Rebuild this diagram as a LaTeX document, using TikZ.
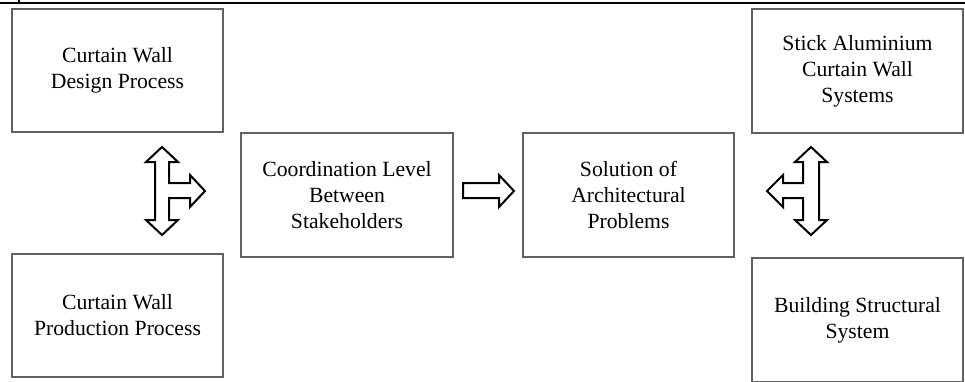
\documentclass[tikz,border=0pt]{standalone}
\usepackage{fontspec}
\setmainfont{Liberation Serif}
\begin{document}
\begin{tikzpicture}[x=1pt,y=-1pt,
  box/.style={draw=black!62,line width=1.4pt,minimum width=211pt,minimum height=123pt,
    inner sep=0pt,align=center,text=black,font=\fontsize{21.7}{26}\selectfont},
  blockarrow/.style={draw=black,fill=white,line width=2pt,line join=miter}]
\useasboundingbox (0,0) rectangle (965,381);
\clip (0,0) rectangle (965,381);
% top rule
\draw[line width=2.8pt] (0,3) -- (965,3);
\draw[line width=1.5pt] (19,0) -- (19,3);
% boxes
\node[box] (design) at (117.5,70.5) {Curtain Wall\\Design Process};
\node[box] (production) at (117.5,315.5) {Curtain Wall\\Production Process};
\node[box,minimum width=212pt,minimum height=124pt] (coord) at (347,195) {Coordination Level\\Between\\Stakeholders};
\node[box,minimum height=124pt] (solution) at (628.5,195) {Solution of\\Architectural\\Problems};
\node[box,minimum height=124pt] (stick) at (857.5,71) {Stick Aluminium\\Curtain Wall\\Systems};
\node[box,minimum height=124pt] (building) at (857.5,320) {Building Structural\\System};
% left three-way arrow
\draw[blockarrow] (162,147) -- (178,162) -- (169,162) -- (169,183) -- (190,183) -- (190,175)
  -- (205,191) -- (190,207) -- (190,198) -- (169,198) -- (169,220) -- (178,220)
  -- (162,235) -- (146,220) -- (155,220) -- (155,162) -- (146,162) -- cycle;
% middle arrow
\draw[blockarrow] (463,183) -- (499,183) -- (499,175) -- (514,191) -- (499,207) -- (499,198) -- (463,198) -- cycle;
% right three-way arrow
\draw[blockarrow] (811,147) -- (827,162) -- (819,162) -- (819,220) -- (827,220) -- (811,235)
  -- (795,220) -- (803,220) -- (803,198) -- (783,198) -- (783,207) -- (767,191)
  -- (783,175) -- (783,183) -- (803,183) -- (803,162) -- (795,162) -- cycle;
\end{tikzpicture}
\end{document}
